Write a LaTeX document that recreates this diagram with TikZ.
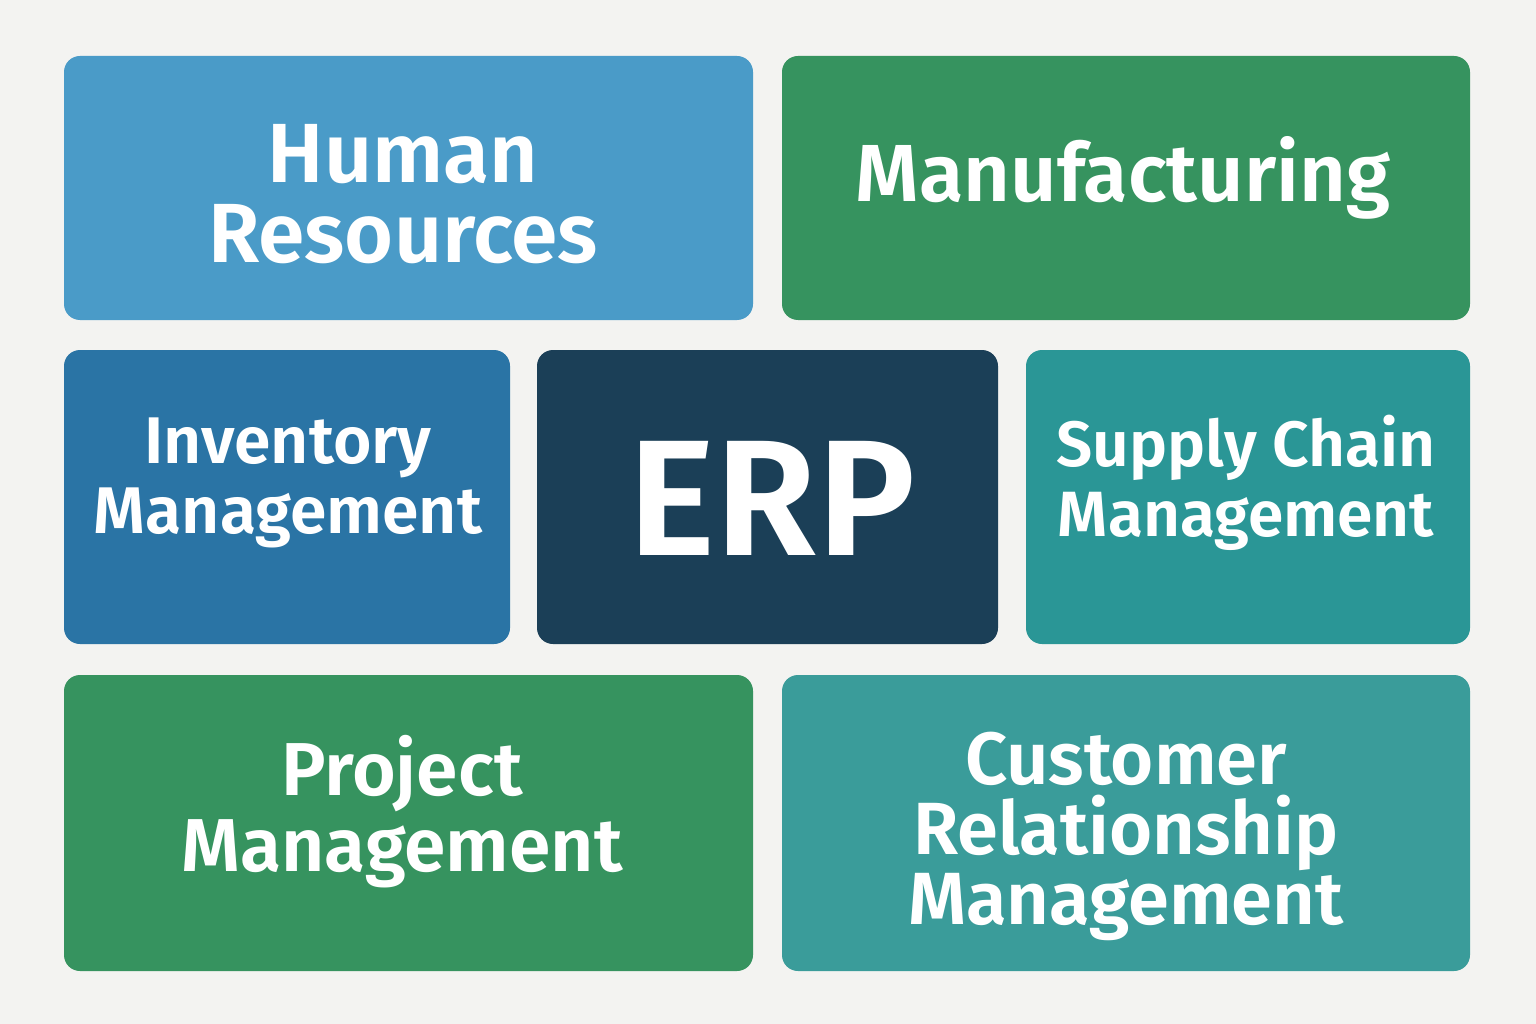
\documentclass[tikz,border=0pt]{standalone}
\usepackage{fontspec}
\setmainfont{Fira Sans}[BoldFont={Fira Sans SemiBold}]
\definecolor{bg}{HTML}{F3F3F1}
\definecolor{hr}{HTML}{4A9BC8}
\definecolor{mfg}{HTML}{36935F}
\definecolor{inv}{HTML}{2A74A5}
\definecolor{erp}{HTML}{1B3F57}
\definecolor{scm}{HTML}{2A9696}
\definecolor{crm}{HTML}{3A9C9A}
\tikzset{
  modbox/.style={rounded corners=16pt, draw=none},
  lbl/.style={text=white, align=center, font=\bfseries, inner sep=0pt}
}
\newcommand{\fs}[2]{\fontsize{#1}{#2}\selectfont}
\begin{document}
\begin{tikzpicture}[x=1pt,y=-1pt]
\fill[bg] (0,0) rectangle (1536,1024);
\useasboundingbox (0,0) rectangle (1536,1024);
% boxes
\fill[hr, modbox]  (64,56) rectangle (753,320);
\fill[mfg, modbox] (782,56) rectangle (1470,320);
\fill[inv, modbox] (64,350) rectangle (510,644);
\fill[erp, modbox] (537,350) rectangle (998,644);
\fill[scm, modbox] (1026,350) rectangle (1470,644);
\fill[mfg, modbox] (64,675) rectangle (753,971);
\fill[crm, modbox] (782,675) rectangle (1470,971);
% labels
\node[lbl, font=\bfseries\fs{84}{80}] (thr) at (403,194) {Human\\Resources};
\node[lbl, font=\bfseries\fs{81}{80}] (tmfg) at (1123,178) {Manufacturing};
\node[lbl, font=\bfseries\fs{66}{70}] (tinv) at (288,483) {Inventory\\Management};
\node[lbl, font=\bfseries\fs{165}{160}] (terp) at (772,498) {ERP};
\node[lbl, font=\bfseries\fs{64}{70}] (tscm) at (1246,483) {Supply Chain\\Management};
\node[lbl, font=\bfseries\fs{75}{76}] (tpm) at (402,812) {Project\\Management};
\node[lbl, font=\bfseries\fs{74}{70}] (tcrm) at (1126,836) {Customer\\Relationship\\Management};
\end{tikzpicture}
\end{document}
